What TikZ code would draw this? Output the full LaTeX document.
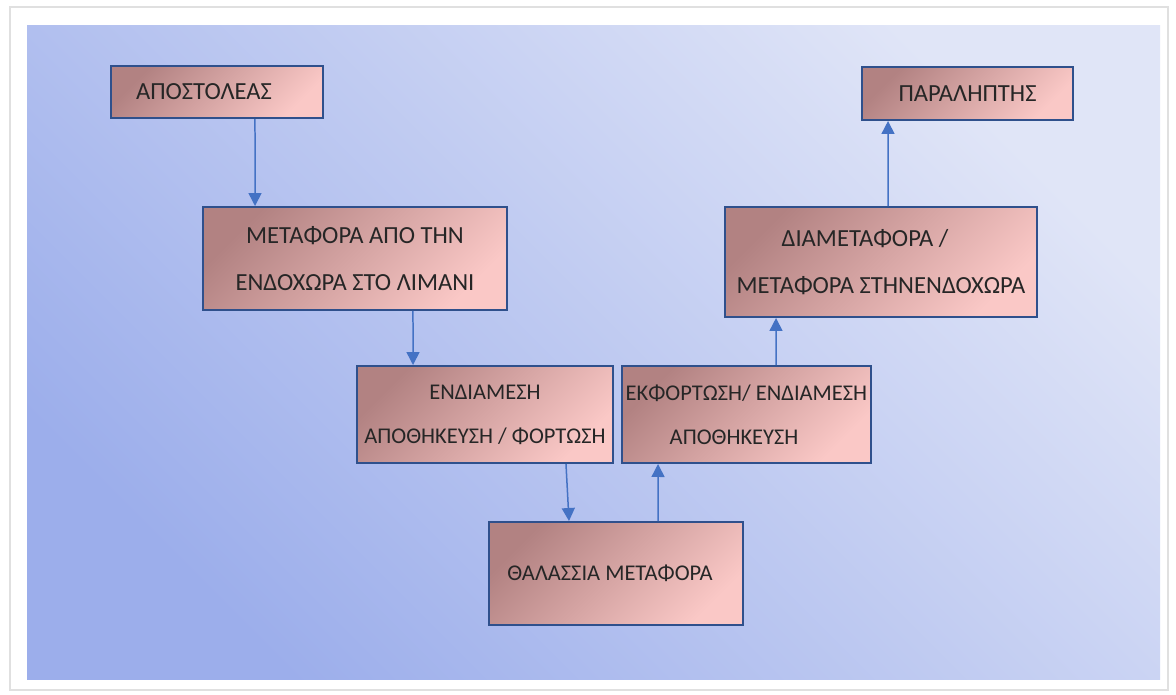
\documentclass[tikz,border=0pt]{standalone}
\usepackage{fontspec}
\setmainfont{Carlito}
\usepackage{xcolor}
\usepackage{tikz}
\usetikzlibrary{arrows.meta}

\definecolor{boxdark}{RGB}{178,130,130}
\definecolor{boxlight}{RGB}{250,200,198}
\definecolor{boxline}{RGB}{47,80,140}
\definecolor{arrowblue}{RGB}{68,114,196}
\definecolor{bgdark}{RGB}{156,174,235}
\definecolor{bglight}{RGB}{224,229,247}

\begin{document}
\begin{tikzpicture}[
        x=0.02cm, y=-0.02cm,
        module/.style={rectangle, draw=boxline, line width=0.04cm, top color=boxdark, bottom color=boxlight, shading angle=45, text=black!85, font=\fontsize{14}{26.5}\selectfont, inner sep=0pt, align=center},
        narrow/.style={font=\fontsize{12.8}{25}\selectfont},
        flow/.style={-{Triangle[length=0.26cm, width=0.26cm]}, arrowblue, line width=0.03cm}
    ]
        \useasboundingbox (0,0) rectangle (1176,694);

        % Frame and background
        \draw [black!12, line width=0.05cm, fill=white] (10,7) rectangle (1168,690);
        \shade [top color=bglight, bottom color=bgdark, shading angle=-45] (27,25) rectangle (1160,679);

        % Nodes
        \node (sender) [module, minimum width=4.24cm, minimum height=1.04cm] at (217,92) {ΑΠΟΣΤΟΛΕΑΣ\hspace*{0.52cm}};
        \node (inland) [module, minimum width=6.08cm, minimum height=2.06cm] at (355,258.5) {ΜΕΤΑΦΟΡΑ ΑΠΟ ΤΗΝ\\ΕΝΔΟΧΩΡΑ ΣΤΟ ΛΙΜΑΝΙ};
        \node (storage) [module, narrow, minimum width=5.12cm, minimum height=1.94cm] at (485,414.5) {ΕΝΔΙΑΜΕΣΗ\\ΑΠΟΘΗΚΕΥΣΗ / ΦΟΡΤΩΣΗ};
        \node (unloading) [module, narrow, align=left, minimum width=4.98cm, minimum height=1.94cm] at (746.5,414.5) {ΕΚΦΟΡΤΩΣΗ/ ΕΝΔΙΑΜΕΣΗ\\\hspace*{0.88cm}ΑΠΟΘΗΚΕΥΣΗ};
        \node (sea) [module, narrow, minimum width=5.08cm, minimum height=2.06cm] at (616,573.5) {ΘΑΛΑΣΣΙΑ ΜΕΤΑΦΟΡΑ\hspace*{0.24cm}};
        \node (transit) [module, align=left, minimum width=6.24cm, minimum height=2.2cm] at (881,262) {\hspace*{0.9cm}ΔΙΑΜΕΤΑΦΟΡΑ /\\ΜΕΤΑΦΟΡΑ ΣΤΗΝΕΝΔΟΧΩΡΑ};
        \node (receiver) [module, minimum width=4.22cm, minimum height=1.06cm] at (967.5,93.5) {ΠΑΡΑΛΗΠΤΗΣ};

        % Arrows
        \draw [flow] ([xshift=0.76cm]sender.south) -- ([xshift=-2cm]inland.north);
        \draw [flow] ([xshift=1.16cm]inland.south) -- ([xshift=-1.44cm]storage.north);
        \draw [flow] ([xshift=1.62cm]storage.south) -- ([xshift=-0.94cm]sea.north);
        \draw [flow] ([xshift=0.84cm]sea.north) -- ([xshift=-1.77cm]unloading.south);
        \draw [flow] ([xshift=0.59cm]unloading.north) -- ([xshift=-2.1cm]transit.south);
        \draw [flow] ([xshift=0.14cm]transit.north) -- ([xshift=-1.59cm]receiver.south);
    \end{tikzpicture}
\end{document}
